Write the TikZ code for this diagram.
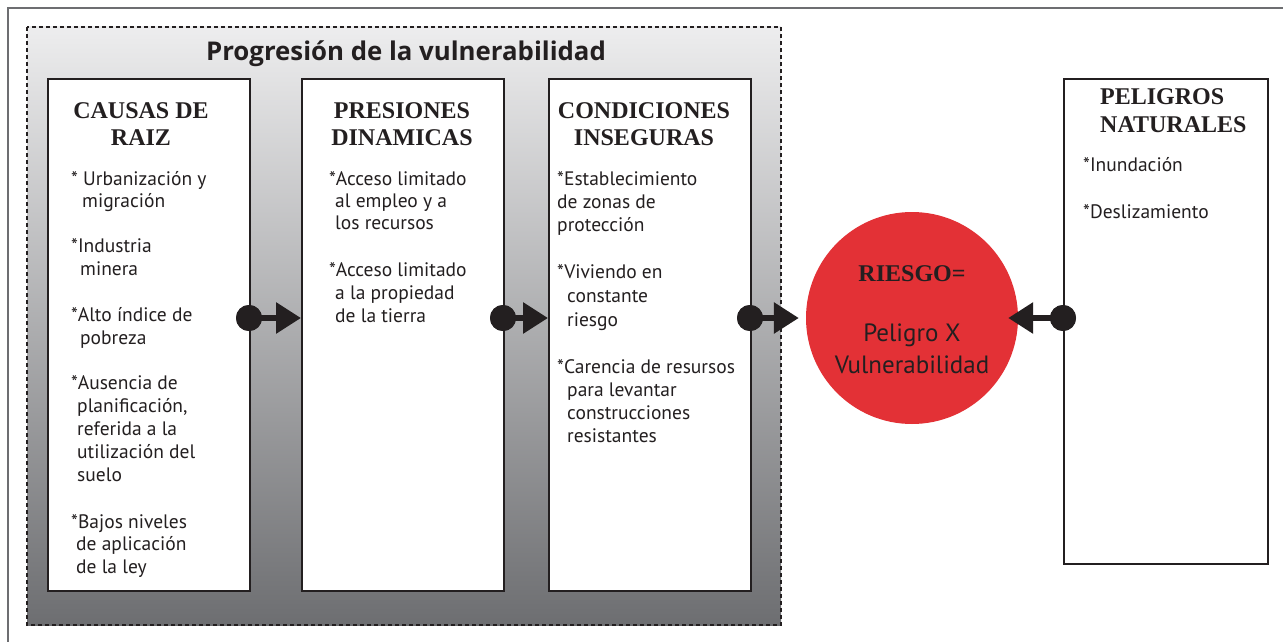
\documentclass[tikz,border=0pt]{standalone}
\usepackage{fontspec}
\setmainfont{Liberation Serif}
\newfontfamily\bodyfont{PT Sans}
\newfontfamily\titlefont{Open Sans}
\usetikzlibrary{arrows.meta}
\definecolor{ink}{HTML}{231F20}
\definecolor{riskred}{HTML}{E33136}
\definecolor{shadetop}{HTML}{EDEDEE}
\definecolor{shadebot}{HTML}{6D6E71}
\definecolor{framegray}{HTML}{6D6E71}
\begin{document}
\begin{tikzpicture}[x=1pt,y=-1pt,
 box/.style={draw=ink,line width=1.6pt,fill=white,inner sep=0,anchor=north west},
 head/.style={font=\fontsize{24}{27}\selectfont\bfseries,text=ink,anchor=base,inner sep=0},
 body/.style={font=\bodyfont\fontsize{19.5}{23}\selectfont,text=ink,anchor=base west,inner sep=0},
 big/.style={font=\bodyfont\fontsize{25}{25}\selectfont,text=ink,anchor=base,inner sep=0},
 dotnode/.style={circle,fill=ink,minimum size=26pt,inner sep=0},
 conn/.style={draw=ink,line width=6pt,-{Triangle[length=25pt,width=30pt]}},
]
\useasboundingbox (0,0) rectangle (1283,642);
\fill[white] (0,0) rectangle (1283,642);
% outer frame
\draw[framegray,line width=1.5pt] (1283,8) -- (8,8) -- (8,642);
% dashed shaded area
\shade[top color=shadetop,bottom color=shadebot] (27,27) rectangle (781,625);
\draw[ink,line width=2pt,dash pattern=on 4pt off 3pt] (27,27) rectangle (781,625);
\node[font=\titlefont\bfseries\fontsize{25.8}{26}\selectfont,text=ink,anchor=base,inner sep=0] (title) at (406,61) {Progresión de la vulnerabilidad};

% boxes
\node[box,minimum width=202pt,minimum height=512pt] (b1) at (47,78) {};
\node[box,minimum width=202pt,minimum height=512pt] (b2) at (301,78) {};
\node[box,minimum width=202pt,minimum height=512pt] (b3) at (548,78) {};
\node[box,minimum width=204pt,minimum height=485pt] (b4) at (1063,78) {};

% headings
\node[head] (h1a) at (141,118) {CAUSAS DE};
\node[head] (h1b) at (141,145) {RAIZ};
\node[head] (h2a) at (402,118) {PRESIONES};
\node[head] (h2b) at (402,145) {DINAMICAS};
\node[head] (h3a) at (644,118) {CONDICIONES};
\node[head] (h3b) at (644,145) {INSEGURAS};
\node[head,anchor=base west] (h4a) at (1100,104) {PELIGROS};
\node[head,anchor=base west] (h4b) at (1100,132) {NATURALES};

% box 1 text
\node[body] (t1a) at (71,185) {* Urbanización y};
\node[body] (t1b) at (82,207) {migración};
\node[body] (t1c) at (71,252) {*Industria};
\node[body] (t1d) at (80,275) {minera};
\node[body] (t1e) at (71,321) {*Alto índice de};
\node[body] (t1f) at (80,344) {pobreza};
\node[body] (t1g) at (71,389) {*Ausencia de};
\node[body] (t1h) at (77,412) {planificación,};
\node[body] (t1i) at (77,435) {referida a la};
\node[body] (t1j) at (77,458) {utilización del};
\node[body] (t1k) at (77,481) {suelo};
\node[body] (t1l) at (71,528) {*Bajos niveles};
\node[body] (t1m) at (76,550) {de aplicación};
\node[body] (t1n) at (76,573) {de la ley};

% box 2 text
\node[body] (t2a) at (329,185) {*Acceso limitado};
\node[body] (t2b) at (335,207) {al empleo y a};
\node[body] (t2c) at (335,229) {los recursos};
\node[body] (t2d) at (329,276) {*Acceso limitado};
\node[body] (t2e) at (335,299) {a la propiedad};
\node[body] (t2f) at (335,322) {de la tierra};

% box 3 text
\node[body] (t3a) at (557,185) {*Establecimiento};
\node[body] (t3b) at (557,208) {de zonas de};
\node[body] (t3c) at (557,231) {protección};
\node[body] (t3d) at (557,278) {*Viviendo en};
\node[body] (t3e) at (567,302) {constante};
\node[body] (t3f) at (567,326) {riesgo};
\node[body] (t3g) at (557,373) {*Carencia de resursos};
\node[body] (t3h) at (567,396) {para levantar};
\node[body] (t3i) at (567,419) {construcciones};
\node[body] (t3j) at (567,442) {resistantes};

% box 4 text
\node[body] (t4a) at (1083,171) {*Inundación};
\node[body] (t4b) at (1083,218) {*Deslizamiento};

% risk circle
\node[circle,fill=riskred,minimum size=212pt,inner sep=0] (circ) at (912,318) {};
\node[font=\fontsize{24}{25}\selectfont\bfseries,text=ink,anchor=base,inner sep=0] (riesgo) at (912,281) {RIESGO=};
\node[big] (c1) at (912,341) {Peligro X};
\node[big] (c2) at (912,373) {Vulnerabilidad};

% connectors
\node[dotnode] (d1) at (249,318) {};
\node[dotnode] (d2) at (503,318) {};
\node[dotnode] (d3) at (750,318) {};
\node[dotnode] (d4) at (1063,318) {};
\draw[conn] (d1.center) -- (b2.west |- d1.center);
\draw[conn] (d2.center) -- (b3.west |- d2.center);
\draw[conn] (d3.center) -- ([xshift=-7pt]circ.west);
\draw[conn] (d4.center) -- ([xshift=-10pt]circ.east);
\node[dotnode] (d1b) at (d1) {};
\node[dotnode] (d2b) at (d2) {};
\node[dotnode] (d3b) at (d3) {};
\node[dotnode] (d4b) at (d4) {};
\end{tikzpicture}
\end{document}
